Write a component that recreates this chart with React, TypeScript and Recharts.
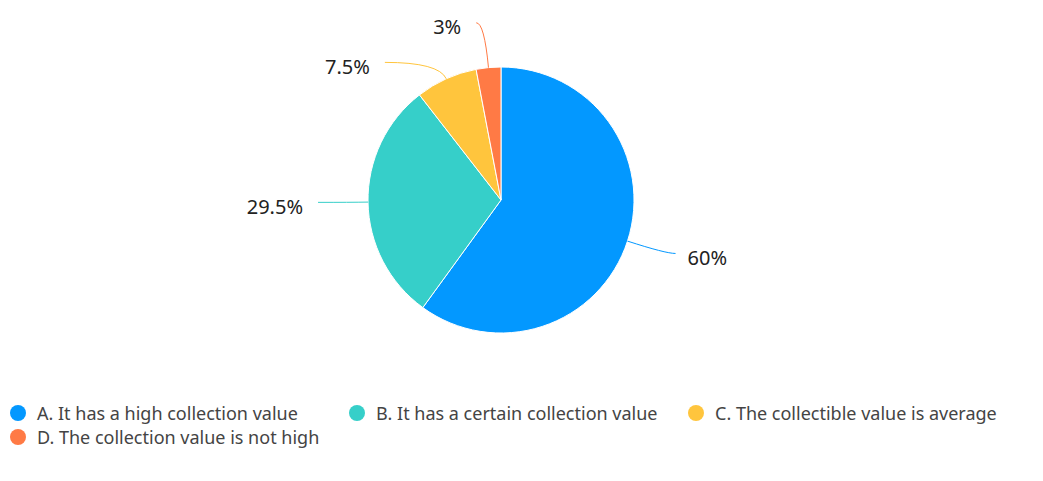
import React from "react";
import { PieChart, Pie, Cell, Legend } from "recharts";

const categories = [
  "A. It has a high collection value",
  "B. It has a certain collection value",
  "C. The collectible value is average",
  "D. The collection value is not high",
];
const values = [60, 29.5, 7.5, 3];
const labels = ["60%", "29.5%", "7.5%", "3%"];
const colors = ["#0398ff", "#36cfc9", "#ffc53d", "#ff7a45"];

const labelLen1 = [40, 18, 18, 45];
const labelLen2 = [10, 32, 54, 8];

const data = categories.map((name, i) => ({ name, value: values[i], label: labels[i] }));

const FONT = '"Noto Sans", sans-serif';
const RAD = Math.PI / 180;

const renderLabel = (props: any) => {
  const { cx, cy, outerRadius, midAngle, index } = props;
  const cos = Math.cos(-midAngle * RAD);
  const sin = Math.sin(-midAngle * RAD);
  const x0 = cx + outerRadius * cos;
  const y0 = cy + outerRadius * sin;
  const r1 = outerRadius + labelLen1[index];
  const x1 = cx + r1 * cos;
  const y1 = cy + r1 * sin;
  const right = cos >= 0;
  const x2 = x1 + (right ? labelLen2[index] : -labelLen2[index]);
  const y2 = y1;
  return (
    <g>
      <path
        d={`M${x0},${y0} Q${x1},${y1} ${x2},${y2}`}
        stroke={colors[index]}
        strokeWidth={1}
        fill="none"
      />
      <text
        x={right ? x2 + 12 : x2 - 15}
        y={y2 + 6}
        textAnchor={right ? "start" : "end"}
        dominantBaseline="middle"
        fontFamily={FONT}
        fontSize={20}
        fill="#222"
      >
        {labels[index]}
      </text>
    </g>
  );
};

const renderLegend = () => (
  <div style={{ display: "flex", flexWrap: "wrap", width: 1020, paddingLeft: 10 }}>
    {categories.map((c, i) => (
      <div
        key={c}
        style={{ width: 339, height: 24, display: "flex", alignItems: "center", fontFamily: FONT, fontSize: 18, color: "#444" }}
      >
        <span
          style={{ display: "inline-block", width: 16, height: 16, borderRadius: 8, background: colors[i], marginRight: 11, flexShrink: 0 }}
        />
        <span style={{ whiteSpace: "nowrap" }}>{c}</span>
      </div>
    ))}
  </div>
);

export default function App() {
  return (
    <div style={{ position: "absolute", left: 0, top: 0, background: "#fff" }}>
      <PieChart width={1043} height={481} margin={{ top: 0, right: 0, bottom: 0, left: 0 }}>
        <Pie
          data={data}
          dataKey="value"
          nameKey="name"
          cx={501}
          cy={200}
          outerRadius={133}
          startAngle={90}
          endAngle={-270}
          stroke="#fff"
          strokeWidth={1}
          label={renderLabel}
          labelLine={false}
          isAnimationActive={false}
        >
          {data.map((d, i) => (
            <Cell key={d.name} fill={colors[i]} />
          ))}
        </Pie>
        <Legend
          content={renderLegend}
          wrapperStyle={{ position: "absolute", left: 0, top: 401, width: 1043 }}
        />
      </PieChart>
    </div>
  );
}
